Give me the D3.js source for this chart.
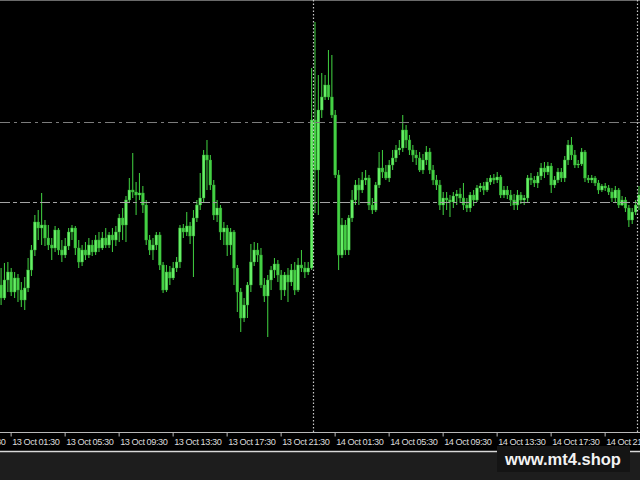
<!DOCTYPE html>
<html>
<head>
<meta charset="utf-8">
<script src="https://cdn.jsdelivr.net/npm/d3@7"></script>
<style>
html,body{margin:0;padding:0;background:#000;}
svg{display:block;}
</style>
</head>
<body>
<svg id="chart" width="640" height="480"></svg>
<script>
// ---- data (M15 bars, 13 Oct 00:45 -> 15 Oct 00:00) ----
const startTime = "2021-10-13 00:45";
const barMinutes = 15;
const opens = [
1791.5,1790.2,1792.0,1792.8,1790.8,1792.2,1791.0,1790.0,1791.2,1793.0,
1795.0,1797.8,1797.2,1797.5,1796.2,1795.5,1795.2,1797.0,1795.0,1794.5,
1795.4,1796.8,1797.2,1795.2,1793.8,1795.0,1794.5,1795.5,1794.8,1796.0,
1795.2,1796.2,1795.5,1796.5,1796.0,1796.8,1798.2,1797.5,1800.0,1801.0,
1800.8,1800.5,1800.7,1799.5,1796.0,1795.0,1795.5,1796.5,1793.5,1791.0,
1792.8,1792.2,1793.2,1793.8,1797.2,1796.8,1797.4,1796.4,1798.2,1799.5,
1800.2,1804.5,1804.0,1801.5,1798.5,1799.2,1796.8,1797.2,1795.5,1796.8,
1793.2,1790.8,1788.2,1789.5,1791.5,1793.8,1795.0,1794.5,1791.5,1790.4,
1792.0,1793.0,1793.6,1792.5,1791.0,1792.5,1791.8,1793.0,1791.0,1793.5,
1793.2,1792.8,1793.2,1808.0,1803.0,1809.0,1810.3,1811.5,1810.3,1808.5,
1802.5,1794.5,1797.5,1795.0,1798.2,1800.0,1801.5,1801.0,1802.0,1802.2,
1799.5,1799.0,1801.5,1803.2,1802.8,1802.2,1803.5,1804.2,1805.0,1805.2,
1807.0,1806.0,1805.0,1804.5,1804.2,1803.0,1804.0,1804.8,1803.0,1802.0,
1801.5,1799.5,1800.2,1800.0,1799.8,1800.4,1800.6,1800.2,1799.5,1799.2,
1800.5,1800.0,1801.2,1801.4,1801.0,1801.8,1802.2,1802.0,1802.3,1800.5,
1801.0,1800.5,1800.0,1799.5,1800.5,1800.0,1800.2,1802.2,1802.0,1801.7,
1802.4,1803.2,1802.8,1803.4,1801.5,1802.0,1802.8,1802.2,1804.0,1805.5,
1804.5,1803.5,1803.6,1804.8,1802.2,1802.0,1802.2,1801.7,1801.0,1801.4,
1801.2,1800.8,1800.2,1801.0,1799.5,1800.0,1799.2,1798.0,1798.8,1799.5];
const highs = [
1793.2,1793.7,1793.8,1793.2,1792.8,1792.6,1791.8,1792.3,1794.2,1795.5,
1798.5,1799.0,1800.7,1798.0,1797.5,1796.2,1797.4,1797.2,1796.0,1796.2,
1797.2,1797.5,1797.4,1796.0,1795.5,1795.8,1796.2,1796.0,1796.5,1796.8,
1796.8,1797.2,1796.8,1797.2,1797.4,1798.6,1799.2,1800.4,1802.2,1804.7,
1801.8,1802.7,1801.4,1800.0,1796.5,1796.2,1796.8,1796.8,1793.8,1793.5,
1793.4,1793.8,1794.3,1797.5,1797.6,1798.8,1797.8,1799.0,1800.0,1802.7,
1805.0,1806.0,1804.5,1802.0,1800.0,1799.5,1797.8,1797.5,1797.2,1797.0,
1793.5,1791.2,1790.2,1791.8,1795.6,1795.8,1795.7,1795.2,1792.2,1792.5,
1793.4,1794.2,1794.0,1793.0,1792.8,1793.2,1793.6,1793.8,1794.2,1795.0,
1793.8,1793.8,1813.2,1817.8,1812.5,1812.7,1812.5,1815.0,1814.5,1809.0,
1803.0,1798.2,1798.0,1798.5,1801.0,1802.0,1802.2,1802.8,1803.0,1802.5,
1800.2,1801.8,1804.8,1805.0,1803.5,1804.0,1805.0,1805.5,1806.0,1808.5,
1807.5,1806.5,1805.5,1805.0,1804.8,1804.6,1805.4,1805.2,1803.5,1802.5,
1802.0,1800.8,1800.8,1800.5,1800.8,1801.0,1801.2,1801.7,1800.2,1800.8,
1801.0,1801.5,1801.7,1801.8,1802.2,1802.5,1802.6,1802.8,1802.5,1801.4,
1801.4,1801.0,1800.6,1801.0,1800.8,1800.5,1802.5,1802.7,1802.4,1802.8,
1803.7,1803.8,1803.8,1803.7,1802.4,1803.2,1803.2,1804.4,1806.0,1806.3,
1805.0,1804.0,1805.2,1805.0,1802.5,1802.5,1802.4,1802.0,1801.6,1801.7,
1801.5,1801.2,1801.4,1801.2,1800.4,1800.3,1799.5,1799.2,1800.0,1801.4];
const lows = [
1789.5,1790.0,1790.8,1790.4,1790.2,1789.8,1789.3,1789.0,1790.8,1792.4,
1794.4,1796.0,1795.5,1795.4,1795.0,1794.0,1794.8,1794.5,1793.8,1794.2,
1795.0,1796.0,1794.5,1793.2,1793.4,1794.0,1794.2,1794.4,1794.5,1794.8,
1795.0,1795.2,1795.2,1794.8,1795.4,1795.8,1796.0,1795.8,1799.8,1800.2,
1798.5,1800.0,1798.7,1795.5,1794.5,1794.0,1795.0,1793.0,1790.7,1790.8,
1791.5,1792.0,1792.8,1793.2,1796.2,1796.4,1795.6,1792.3,1797.8,1799.0,
1799.8,1801.0,1801.0,1798.0,1797.8,1796.0,1795.5,1794.4,1794.5,1791.5,
1788.8,1786.8,1787.8,1788.2,1790.8,1793.4,1793.8,1791.2,1789.8,1786.3,
1791.0,1792.2,1791.8,1790.0,1790.4,1789.8,1791.4,1790.5,1790.8,1792.8,
1792.2,1792.5,1793.0,1798.7,1798.5,1808.2,1810.0,1810.0,1808.2,1802.2,
1793.0,1794.2,1794.5,1794.5,1797.8,1799.5,1799.5,1800.7,1801.5,1799.0,
1798.6,1798.8,1801.2,1802.2,1802.0,1801.8,1803.0,1803.8,1804.5,1804.8,
1805.2,1804.5,1803.8,1803.5,1802.8,1802.6,1803.5,1802.6,1801.5,1801.0,
1799.0,1798.5,1799.0,1798.3,1799.2,1799.5,1799.7,1799.0,1798.8,1798.8,
1799.4,1799.8,1800.8,1800.5,1800.8,1801.5,1801.6,1801.7,1800.2,1800.2,
1800.1,1799.4,1799.0,1799.0,1799.6,1799.5,1799.8,1801.5,1801.3,1801.2,
1802.0,1802.2,1802.5,1800.7,1801.2,1801.7,1801.8,1801.8,1803.5,1804.0,
1803.2,1803.2,1803.4,1801.8,1801.7,1801.7,1801.4,1800.6,1800.8,1800.9,
1800.5,1799.8,1799.8,1799.2,1799.4,1798.8,1797.3,1797.6,1798.5,1799.0];
const closes = [
1790.2,1792.0,1792.8,1790.8,1792.2,1791.0,1790.0,1791.2,1793.0,1795.0,
1797.8,1797.2,1797.5,1796.2,1795.5,1795.2,1797.0,1795.0,1794.5,1795.4,
1796.8,1797.2,1795.2,1793.8,1795.0,1794.5,1795.5,1794.8,1796.0,1795.2,
1796.2,1795.5,1796.5,1796.0,1796.8,1798.2,1797.5,1800.0,1801.0,1800.8,
1800.5,1800.7,1799.5,1796.0,1795.0,1795.5,1796.5,1793.5,1791.0,1792.8,
1792.2,1793.2,1793.8,1797.2,1796.8,1797.4,1796.4,1798.2,1799.5,1800.2,
1804.5,1804.0,1801.5,1798.5,1799.2,1796.8,1797.2,1795.5,1796.8,1793.2,
1790.8,1788.2,1789.5,1791.5,1793.8,1795.0,1794.5,1791.5,1790.4,1792.0,
1793.0,1793.6,1792.5,1791.0,1792.5,1791.8,1793.0,1791.0,1793.5,1793.2,
1792.8,1793.2,1808.0,1803.0,1809.0,1810.3,1811.5,1810.3,1808.5,1802.5,
1794.5,1797.5,1795.0,1798.2,1800.0,1801.5,1801.0,1802.0,1802.2,1799.5,
1799.0,1801.5,1803.2,1802.8,1802.2,1803.5,1804.2,1805.0,1805.2,1807.0,
1806.0,1805.0,1804.5,1804.2,1803.0,1804.0,1804.8,1803.0,1802.0,1801.5,
1799.5,1800.2,1800.0,1799.8,1800.4,1800.6,1800.2,1799.5,1799.2,1800.5,
1800.0,1801.2,1801.4,1801.0,1801.8,1802.2,1802.0,1802.3,1800.5,1801.0,
1800.5,1800.0,1799.5,1800.5,1800.0,1800.2,1802.2,1802.0,1801.7,1802.4,
1803.2,1802.8,1803.4,1801.5,1802.0,1802.8,1802.2,1804.0,1805.5,1804.5,
1803.5,1803.6,1804.8,1802.2,1802.0,1802.2,1801.7,1801.0,1801.4,1801.2,
1800.8,1800.2,1801.0,1799.5,1800.0,1799.2,1798.0,1798.8,1799.5,1800.5];
const tickLabels = ["12 Oct 21:30","13 Oct 01:30","13 Oct 05:30","13 Oct 09:30","13 Oct 13:30",
  "13 Oct 17:30","13 Oct 21:30","14 Oct 01:30","14 Oct 05:30","14 Oct 09:30",
  "14 Oct 13:30","14 Oct 17:30","14 Oct 21:30"];
const separators = ["14 Oct 00:00","15 Oct 00:00"];
const levels = [1807.8, 1799.8];
const watermark = "www.mt4.shop";

// ---- layout ----
const W = 640, H = 480, plotBottom = 432;
const parseFull = d3.timeParse("%Y-%m-%d %H:%M");
const parseLbl = s => d3.timeParse("%Y %d %b %H:%M")("2021 " + s);
const fmt = d3.timeFormat("%d %b %H:%M");
const t0 = parseFull(startTime);
const bars = opens.map((o, i) => ({
  t: d3.timeMinute.offset(t0, i * barMinutes),
  o, h: highs[i], l: lows[i], c: closes[i]
}));
const tLast = bars[bars.length - 1].t;

const x = d3.scaleTime().domain([t0, tLast]).range([0.5, 0.5 + (bars.length - 1) * 3.375]);
const y = d3.scaleLinear().domain([1776.8, 1820.0]).range([plotBottom, 0]);

const svg = d3.select("#chart");
svg.append("rect").attr("width", W).attr("height", H).attr("fill", "#000");
// lower gray strip
svg.append("rect").attr("x", 0).attr("y", 452).attr("width", W).attr("height", H - 452).attr("fill", "#1d1d1d");
svg.append("line").attr("x1", 0).attr("x2", W).attr("y1", 451.5).attr("y2", 451.5)
  .attr("stroke", "#d8d8d8").attr("stroke-width", 1.5);
// top border
svg.append("line").attr("x1", 0).attr("x2", W).attr("y1", 0.5).attr("y2", 0.5)
  .attr("stroke", "#6a6a6a").attr("stroke-width", 1);

const plot = svg.append("g");
// wicks
plot.selectAll("line.wick").data(bars).join("line").attr("class", "wick")
  .attr("x1", d => x(d.t) + 0.6).attr("x2", d => x(d.t) + 0.6)
  .attr("y1", d => y(d.h)).attr("y2", d => y(d.l))
  .attr("stroke", "#3cc23c").attr("stroke-width", 1.1);
// bodies
plot.selectAll("rect.body").data(bars).join("rect").attr("class", "body")
  .attr("x", d => x(d.t) - 0.8)
  .attr("width", 2.8)
  .attr("y", d => y(Math.max(d.o, d.c)))
  .attr("height", d => Math.max(1, Math.abs(y(d.o) - y(d.c))))
  .attr("fill", d => d.c >= d.o ? "#66f066" : "#44d044")
  .attr("stroke", "#2f9f2f").attr("stroke-width", 0.4);

// level lines
plot.selectAll("line.level").data(levels).join("line").attr("class", "level")
  .attr("x1", 0).attr("x2", W)
  .attr("y1", d => Math.round(y(d)) + 0.5).attr("y2", d => Math.round(y(d)) + 0.5)
  .attr("stroke", (d, i) => i === 0 ? "#7c7c7c" : "#a4a4a4")
  .attr("stroke-width", 1.2)
  .attr("stroke-dasharray", (d, i) => i === 0 ? "10,4,3,4" : "10,3,4,3");

// day separators
plot.selectAll("line.sep").data(separators.map(parseLbl)).join("line").attr("class", "sep")
  .attr("x1", d => Math.round(x(d)) - 0.5).attr("x2", d => Math.round(x(d)) - 0.5)
  .attr("y1", 0).attr("y2", plotBottom)
  .attr("stroke", "#c8c8c8").attr("stroke-width", 1.2).attr("stroke-dasharray", "1.5,2");

// x axis
const axis = d3.axisBottom(x)
  .tickValues(tickLabels.map(parseLbl))
  .tickFormat(fmt)
  .tickSize(4).tickSizeOuter(0);
const gAxis = svg.append("g").attr("transform", `translate(0,${plotBottom + 0.5})`).call(axis);
gAxis.select(".domain").attr("stroke", "#b8b8b8").attr("d", `M0,0H${W}`);
gAxis.selectAll(".tick line").attr("stroke", "#b8b8b8");
gAxis.selectAll(".tick text")
  .attr("text-anchor", "start").attr("x", 1).attr("y", 5.5).attr("dy", "0.71em")
  .attr("fill", "#dcdcdc")
  .style("font-family", "'Liberation Sans', Arial, sans-serif")
  .style("font-size", "9.2px").style("letter-spacing", "-0.45px");

// watermark
svg.append("rect").attr("x", 497).attr("y", 446).attr("width", 133).attr("height", 26)
  .attr("fill", "#141414");
svg.append("text").attr("x", 563).attr("y", 465).attr("text-anchor", "middle")
  .attr("fill", "#f2f2f2")
  .style("font-family", "'Liberation Sans', Arial, sans-serif")
  .style("font-weight", "bold").style("font-size", "16.5px")
  .text(watermark);
</script>
</body>
</html>
